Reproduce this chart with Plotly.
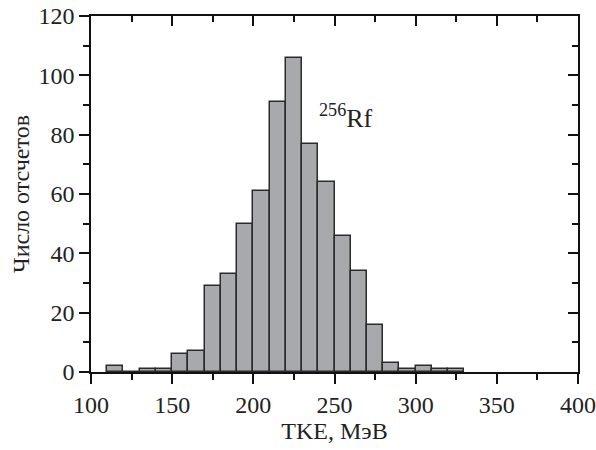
import plotly.graph_objects as go

bin_left = [110, 120, 130, 140, 150, 160, 170, 180, 190, 200, 210, 220, 230, 240,
            250, 260, 270, 280, 290, 300, 310, 320]
counts = [2, 0, 1, 1, 6, 7, 29, 33, 50, 61, 91, 106, 77, 64,
          46, 34, 16, 3, 1, 2, 1, 1]
bin_width = 10
x_ticks = [100, 150, 200, 250, 300, 350, 400]
y_ticks = [0, 20, 40, 60, 80, 100, 120]

centers = [b + bin_width / 2 for b in bin_left]

font = dict(family="Liberation Serif", size=24, color="#222")

fig = go.Figure()
fig.add_trace(go.Bar(
    x=centers, y=counts, width=[bin_width] * len(centers),
    marker=dict(color="#a8a9ad", line=dict(color="#2b2b2b", width=1.5)),
    showlegend=False, hoverinfo="x+y",
))
# invisible helper trace so mirrored (inside-tick) axes are drawn
fig.add_trace(go.Scatter(x=[None], y=[None], xaxis="x2", yaxis="y2",
                         showlegend=False, hoverinfo="skip"))

axis_common = dict(showgrid=False, zeroline=False, showline=True,
                   linecolor="#111", linewidth=1.5, tickcolor="#111",
                   tickwidth=1.5, tickfont=font, automargin=False)

fig.update_layout(
    width=596, height=450,
    margin=dict(l=91, r=18, t=16, b=78),
    paper_bgcolor="white", plot_bgcolor="white",
    bargap=0,
    font=font,
    xaxis=dict(range=[100, 400], tickvals=x_ticks, ticks="outside", ticklen=10,
               minor=dict(dtick=25, tick0=0, ticks="outside", ticklen=6,
                          tickcolor="#111", tickwidth=1.5),
               title=dict(text="TKE, МэВ", font=font, standoff=4),
               **axis_common),
    yaxis=dict(range=[0, 120], tickvals=y_ticks, ticks="outside", ticklen=10,
               minor=dict(dtick=10, tick0=0, ticks="outside", ticklen=6,
                          tickcolor="#111", tickwidth=1.5),
               title=dict(text="Число отсчетов", font=font, standoff=2),
               **axis_common),
    xaxis2=dict(range=[100, 400], overlaying="x", side="top", anchor="y",
                tickvals=x_ticks, ticks="inside", ticklen=10, showticklabels=False,
                minor=dict(dtick=25, tick0=0, ticks="inside", ticklen=6,
                           tickcolor="#111", tickwidth=1.5),
                **axis_common),
    yaxis2=dict(range=[0, 120], overlaying="y", side="right", anchor="x",
                tickvals=y_ticks, ticks="inside", ticklen=10, showticklabels=False,
                minor=dict(dtick=10, tick0=0, ticks="inside", ticklen=6,
                           tickcolor="#111", tickwidth=1.5),
                **axis_common),
    annotations=[dict(x=239, y=86, xref="x", yref="y", xanchor="left", yanchor="middle",
                      text="<sup>256</sup>Rf", showarrow=False,
                      font=dict(family="Liberation Serif", size=26, color="#222"))],
)

fig.write_html("out.html", config={"displayModeBar": False},
               post_script="document.body.style.margin='0px';")
